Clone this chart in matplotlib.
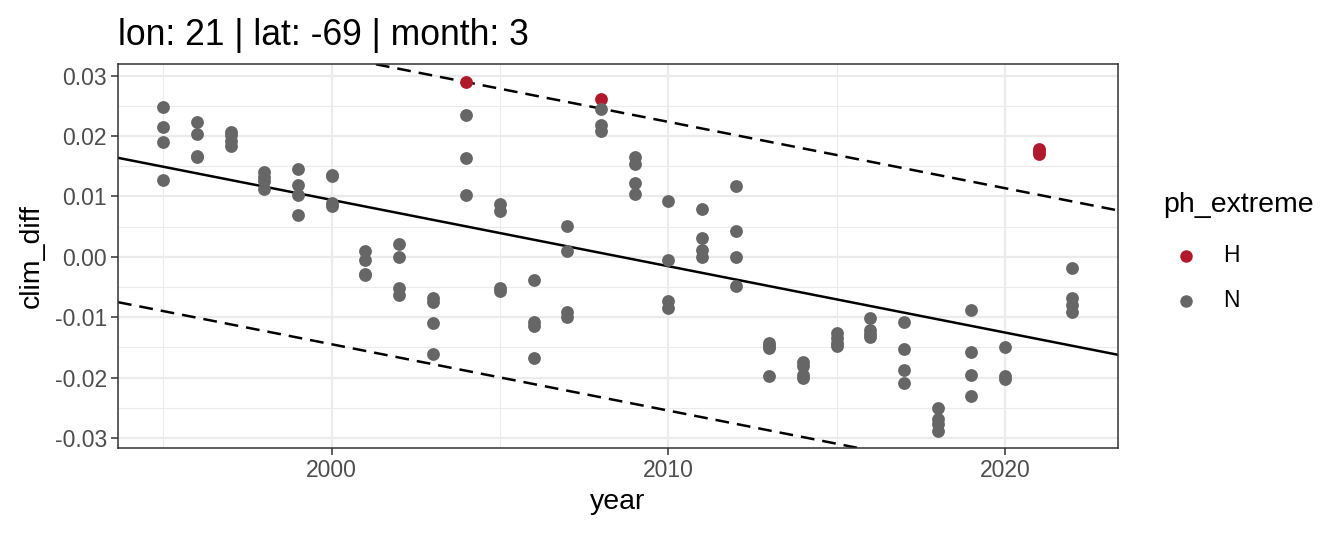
import numpy as np
import matplotlib
matplotlib.use("Agg")
import matplotlib.pyplot as plt
from matplotlib.lines import Line2D

plt.rcParams['font.family'] = ['Liberation Sans', 'DejaVu Sans']
plt.rcParams['axes.unicode_minus'] = False

TITLE = "lon: 21 | lat: -69 | month: 3"

# normal points (ph_extreme == N)
year_n = [1995, 1995, 1995, 1995,
          1996, 1996, 1996, 1996,
          1997, 1997, 1997, 1997,
          1998, 1998, 1998, 1998,
          1999, 1999, 1999, 1999,
          2000, 2000, 2000, 2000,
          2001, 2001, 2001, 2001,
          2002, 2002, 2002, 2002,
          2003, 2003, 2003, 2003,
          2004, 2004, 2004,
          2005, 2005, 2005, 2005,
          2006, 2006, 2006, 2006,
          2007, 2007, 2007, 2007,
          2008, 2008, 2008,
          2009, 2009, 2009, 2009,
          2010, 2010, 2010, 2010,
          2011, 2011, 2011, 2011,
          2012, 2012, 2012, 2012,
          2013, 2013, 2013, 2013,
          2014, 2014, 2014, 2014,
          2015, 2015, 2015, 2015,
          2016, 2016, 2016, 2016,
          2017, 2017, 2017, 2017,
          2018, 2018, 2018, 2018,
          2019, 2019, 2019, 2019,
          2020, 2020, 2020,
          2022, 2022, 2022, 2022]
clim_n = [0.0248, 0.0215, 0.0191, 0.0127,
          0.0224, 0.0203, 0.0167, 0.0166,
          0.0207, 0.0201, 0.0192, 0.0184,
          0.0140, 0.0132, 0.0125, 0.0113,
          0.0146, 0.0119, 0.0103, 0.0069,
          0.0136, 0.0134, 0.0089, 0.0085,
          0.0010, -0.0005, -0.0028, -0.0030,
          0.0021, -0.0001, -0.0051, -0.0063,
          -0.0068, -0.0074, -0.0110, -0.0160,
          0.0235, 0.0164, 0.0102,
          0.0087, 0.0076, -0.0051, -0.0056,
          -0.0038, -0.0107, -0.0115, -0.0168,
          0.0051, 0.0009, -0.0092, -0.0099,
          0.0245, 0.0218, 0.0209,
          0.0165, 0.0154, 0.0122, 0.0104,
          0.0093, -0.0005, -0.0073, -0.0085,
          0.0080, 0.0031, 0.0011, 0.0000,
          0.0117, 0.0043, -0.0001, -0.0049,
          -0.0143, -0.0147, -0.0151, -0.0198,
          -0.0174, -0.0181, -0.0195, -0.0200,
          -0.0126, -0.0135, -0.0143, -0.0148,
          -0.0102, -0.0121, -0.0128, -0.0132,
          -0.0108, -0.0152, -0.0188, -0.0209,
          -0.0250, -0.0269, -0.0277, -0.0288,
          -0.0088, -0.0158, -0.0196, -0.0230,
          -0.0149, -0.0198, -0.0203,
          -0.0019, -0.0068, -0.0080, -0.0091]

# extreme points (ph_extreme == H)
year_h = [2004, 2008, 2021, 2021, 2021]
clim_h = [0.0290, 0.0262, 0.0179, 0.0175, 0.0170]

legend_labels = ["H", "N"]

# trend line (value at year 2000, slope per year) and its band
trend_at_2000 = 0.00943
trend_slope = -0.001098
band = 0.0239

col_h = "#B2182B"
col_n = "#666666"

fig = plt.figure(figsize=(13.44, 5.37), dpi=100)
ax = fig.add_axes([0.0878, 0.1652, 0.7440, 0.7151])

ax.scatter(year_h, clim_h, s=85, color=col_h, zorder=3, linewidths=0)
ax.scatter(year_n, clim_n, s=85, color=col_n, zorder=3, linewidths=0)

ax.axline((2000, trend_at_2000), slope=trend_slope, color="black", lw=1.8, zorder=2)
for off in (band, -band):
    ax.axline((2000, trend_at_2000 + off), slope=trend_slope, color="black",
              lw=1.8, linestyle=(0, (5.5, 3.2)), zorder=2)

# ggplot style 5% expansion
all_x = np.array(year_n + year_h)
all_y = np.array(clim_n + clim_h)
dx = (all_x.max() - all_x.min()) * 0.05
dy = (all_y.max() - all_y.min()) * 0.05
ax.set_xlim(all_x.min() - dx, all_x.max() + dx)
ax.set_ylim(all_y.min() - dy, all_y.max() + dy)

ax.set_xticks([2000, 2010, 2020])
ax.set_xticks([1995, 2005, 2015], minor=True)
ax.set_yticks([-0.03, -0.02, -0.01, 0.0, 0.01, 0.02, 0.03])
ax.set_yticks([-0.025, -0.015, -0.005, 0.005, 0.015, 0.025], minor=True)
ax.set_yticklabels([f"{v:.2f}" for v in ax.get_yticks()])

ax.grid(which="major", color="#EBEBEB", lw=1.6, zorder=0)
ax.grid(which="minor", color="#EBEBEB", lw=0.8, zorder=0)
ax.set_axisbelow(True)
ax.tick_params(which="major", length=5, width=1.1, color="#333333",
               labelsize=16.5, labelcolor="#4D4D4D", pad=3)
ax.tick_params(which="minor", length=0)
for sp in ax.spines.values():
    sp.set_color("#333333")
    sp.set_linewidth(1.1)

ax.set_xlabel("year", fontsize=20.5, labelpad=5)
ax.set_ylabel("clim_diff", fontsize=20.5, labelpad=7)
ax.set_title(TITLE, loc="left", fontsize=25.6, pad=14)

# legend drawn by hand to sit where ggplot puts it
fig.text(0.8653, 0.6183, "ph_extreme", fontsize=20.5, va="center", ha="left")
for lab, col, yy in zip(legend_labels, [col_h, col_n], [0.5233, 0.4400]):
    fig.add_artist(Line2D([0.8824], [yy], marker="o", linestyle="", color=col,
                          markersize=9, markeredgewidth=0,
                          transform=fig.transFigure))
    fig.text(0.910, yy, lab, fontsize=16.5, va="center", ha="left")

fig.savefig("out.png", dpi=100)
